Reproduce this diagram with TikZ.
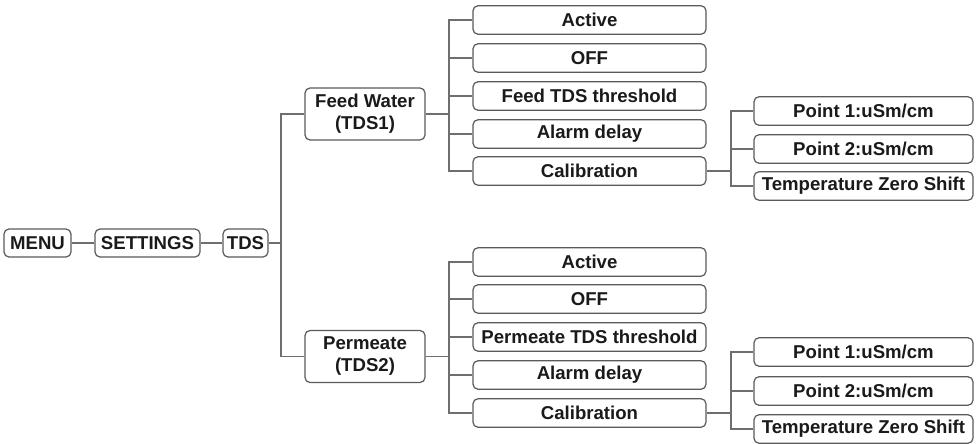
\documentclass[tikz,border=0pt]{standalone}
\usepackage{fontspec}
\setmainfont{Liberation Sans}
\definecolor{boxgray}{HTML}{5A5A5A}
\definecolor{linegray}{HTML}{6E6E6E}
\definecolor{textdark}{HTML}{1A1A1A}
\begin{document}
\begin{tikzpicture}[x=1pt,y=-1pt,
  box/.style={draw=boxgray, line width=1.2pt, rounded corners=5pt, fill=white,
    text=textdark, inner sep=0pt, align=center,
    font=\bfseries\fontsize{18.6}{22}\selectfont, minimum height=28.5pt},
  topbox/.style={box, minimum height=28pt},
  groupbox/.style={box, minimum width=120pt, minimum height=52pt},
  optbox/.style={box, minimum width=233pt},
  subbox/.style={box, minimum width=219pt},
  link/.style={draw=linegray, line width=1.4pt}]
\useasboundingbox (0,0) rectangle (977,444);

% main path
\node[topbox, minimum width=67pt]  (menu)     at (37.5,243)  {MENU};
\node[topbox, minimum width=105pt] (settings) at (147.5,243) {SETTINGS};
\node[topbox, minimum width=45pt]  (tds)      at (245.5,243) {TDS};
\draw[link] (menu) -- (settings);
\draw[link] (settings) -- (tds);

% the two sensors
\node[groupbox] (feed) at (365,114)   {Feed Water\\(TDS1)};
\node[groupbox] (perm) at (365,356.5) {Permeate\\(TDS2)};
\coordinate (jtds) at (281,243);
\draw[link] (tds.east) -- (jtds);
\draw[link] (jtds) |- (feed.west);
\draw[link] (jtds) |- (perm.west);

% feed water options
\node[optbox] (fa) at (589.5,20)  {Active};
\node[optbox] (fo) at (589.5,58)  {OFF};
\node[optbox] (ft) at (589.5,96)  {Feed TDS threshold};
\node[optbox] (fd) at (589.5,134) {Alarm delay};
\node[optbox] (fc) at (589.5,171) {Calibration};
\coordinate (jfeed) at (449,114);
\draw[link] (feed.east) -- (jfeed);
\foreach \n in {fa,fo,ft,fd,fc} \draw[link] (jfeed) |- (\n.west);

% feed water calibration points
\node[subbox] (fp1) at (863.5,111) {Point 1:uSm/cm};
\node[subbox] (fp2) at (863.5,149) {Point 2:uSm/cm};
\node[subbox] (fz)  at (863.5,186) {Temperature Zero Shift};
\coordinate (jfc) at (731,171);
\draw[link] (fc.east) -- (jfc);
\foreach \n in {fp1,fp2,fz} \draw[link] (jfc) |- (\n.west);

% permeate options
\node[optbox] (pa) at (589.5,262) {Active};
\node[optbox] (po) at (589.5,299) {OFF};
\node[optbox] (pt) at (589.5,337) {Permeate TDS threshold};
\node[optbox] (pd) at (589.5,375) {Alarm delay};
\node[optbox] (pc) at (589.5,413) {Calibration};
\coordinate (jperm) at (449,356.5);
\draw[link] (perm.east) -- (jperm);
\foreach \n in {pa,po,pt,pd,pc} \draw[link] (jperm) |- (\n.west);

% permeate calibration points
\node[subbox] (pp1) at (863.5,352) {Point 1:uSm/cm};
\node[subbox] (pp2) at (863.5,391) {Point 2:uSm/cm};
\node[subbox] (pz)  at (863.5,429) {Temperature Zero Shift};
\coordinate (jpc) at (731,413);
\draw[link] (pc.east) -- (jpc);
\foreach \n in {pp1,pp2,pz} \draw[link] (jpc) |- (\n.west);
\end{tikzpicture}
\end{document}
